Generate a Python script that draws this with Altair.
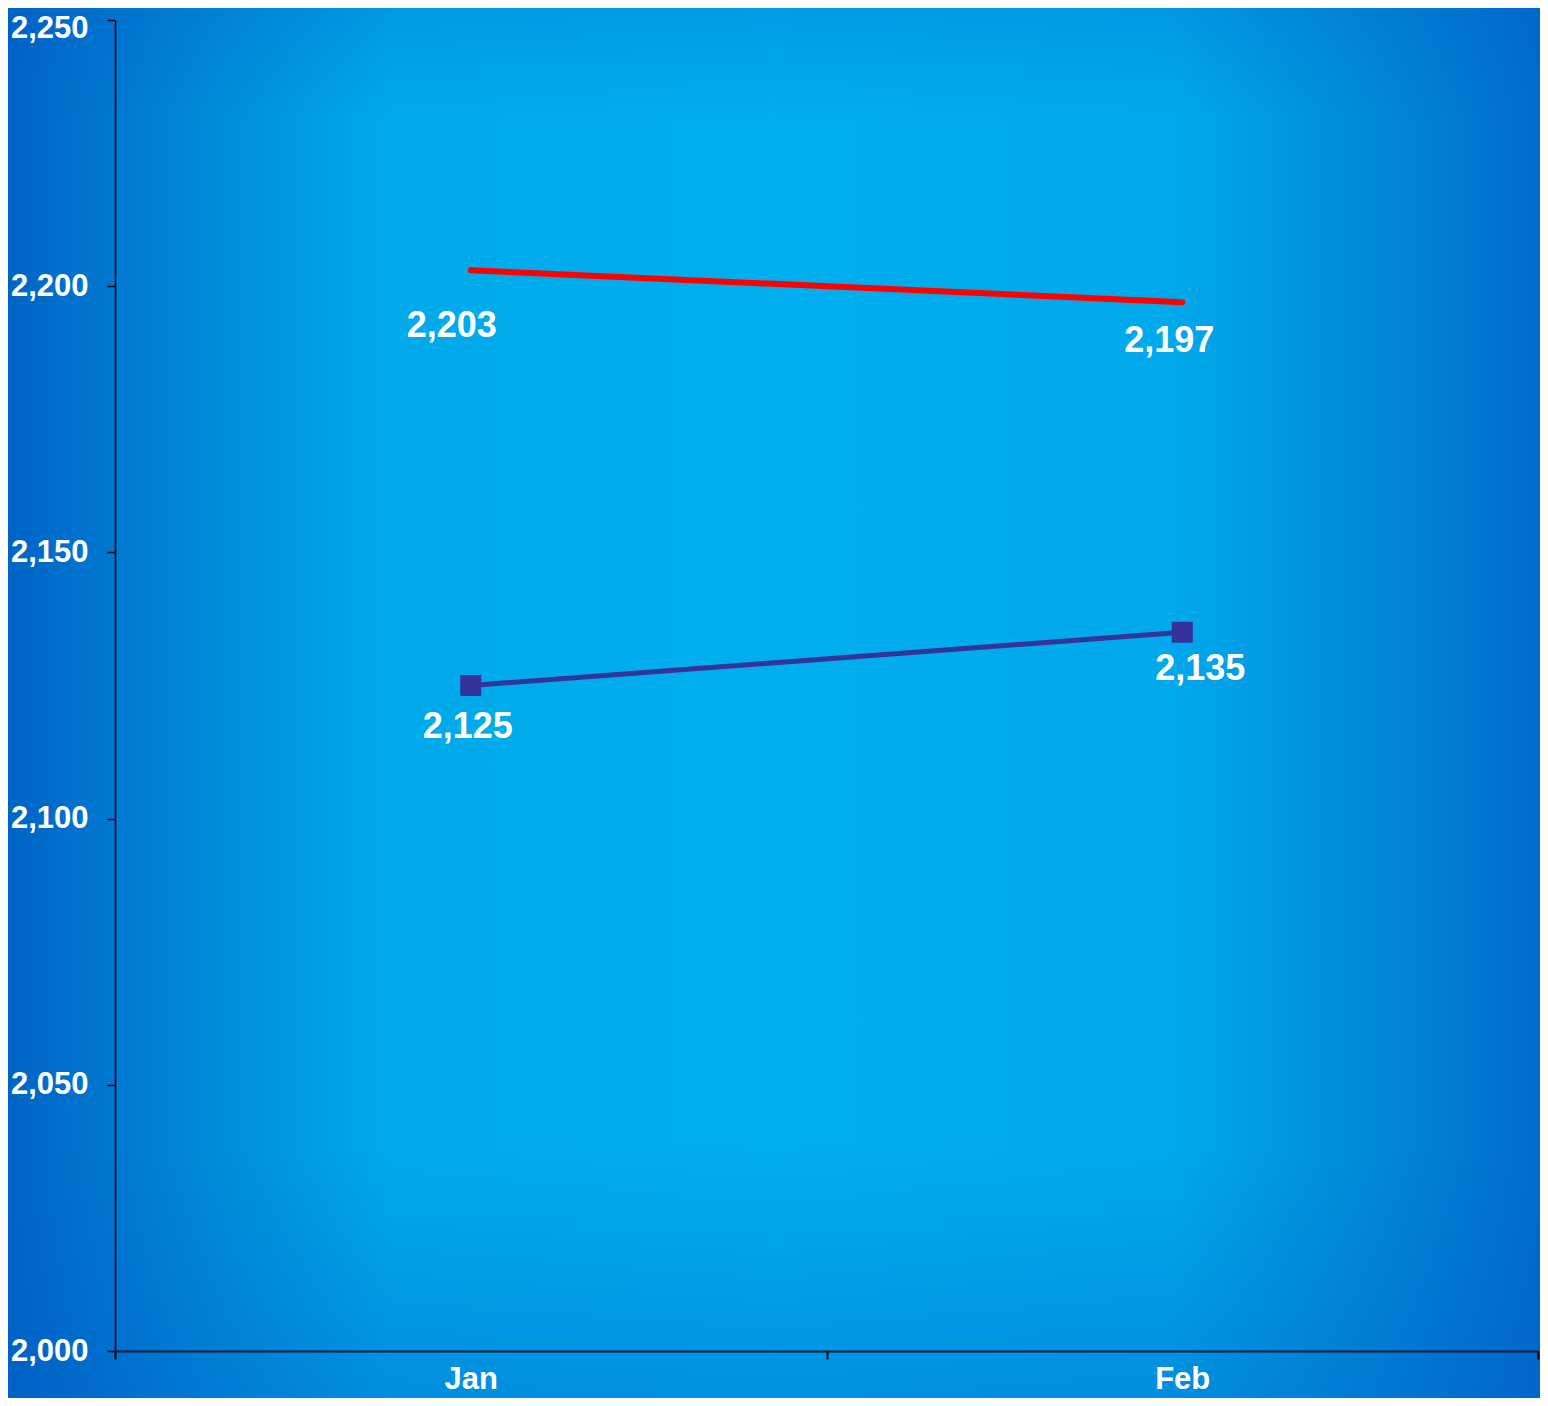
import altair as alt
import pandas as pd

months = ["Jan", "Feb"]
red_series = [2203, 2197]
blue_series = [2125, 2135]
y_ticks = [2000, 2050, 2100, 2150, 2200, 2250]

W, H = 1423, 1331
PL, PT, PR, PB = 107, 12, 2, 47

red_df = pd.DataFrame({"month": months, "value": red_series})
blue_df = pd.DataFrame({"month": months, "value": blue_series})

FONT = "Liberation Sans"

x_enc = alt.X(
    "month:N",
    sort=months,
    bandPosition=0.5,
    scale=alt.Scale(type="band", domain=months, paddingInner=0, paddingOuter=0),
    axis=alt.Axis(
        title=None, labelAngle=0, tickBand="extent", labelColor="white",
        labelFont=FONT, labelFontSize=31, labelFontWeight="bold", labelPadding=5,
        tickSize=8, tickColor="black", tickWidth=2, domainColor="#0a1a30",
        domainWidth=2, grid=False, zindex=1,
    ),
)
y_enc = alt.Y(
    "value:Q",
    scale=alt.Scale(domain=[2000, 2250], nice=False, zero=False),
    axis=alt.Axis(
        title=None, values=y_ticks, format=",d", labelColor="white",
        labelFont=FONT, labelFontSize=31, labelFontWeight="bold", labelPadding=19,
        labelOffset={"condition": {"test": "datum.value == 2250", "value": 8}, "value": 0},
        tickSize=8, tickColor="black", tickWidth=1.5, domainColor="black",
        domainWidth=1.5, grid=False, zindex=1,
    ),
)

bg_h = alt.LinearGradient(
    gradient="linear", x1=0, x2=1, y1=0, y2=0,
    stops=[
        alt.GradientStop(color="#0064C6", offset=0),
        alt.GradientStop(color="#0090DC", offset=0.15),
        alt.GradientStop(color="#00AAEB", offset=0.25),
        alt.GradientStop(color="#00AEEE", offset=0.5),
        alt.GradientStop(color="#00A9EB", offset=0.76),
        alt.GradientStop(color="#008CDA", offset=0.88),
        alt.GradientStop(color="#006CCC", offset=1),
    ],
)
bg_v = alt.LinearGradient(
    gradient="linear", x1=0, x2=0, y1=0, y2=1,
    stops=[
        alt.GradientStop(color="rgba(0,90,200,0.22)", offset=0),
        alt.GradientStop(color="rgba(0,90,200,0)", offset=0.08),
        alt.GradientStop(color="rgba(0,90,200,0)", offset=0.82),
        alt.GradientStop(color="rgba(0,90,200,0.35)", offset=1),
    ],
)

dummy = pd.DataFrame({"a": [0]})
bg1 = alt.Chart(dummy).mark_rect(fill=bg_h, clip=False).encode(
    x=alt.value(-PL), x2=alt.value(W + PR), y=alt.value(-PT), y2=alt.value(H + PB)
)
bg2 = alt.Chart(dummy).mark_rect(fill=bg_v, clip=False).encode(
    x=alt.value(-PL), x2=alt.value(W + PR), y=alt.value(-PT), y2=alt.value(H + PB)
)

red_line = alt.Chart(red_df).mark_line(color="#FF0000", strokeWidth=6, strokeCap="round").encode(x=x_enc, y=y_enc)
blue_line = alt.Chart(blue_df).mark_line(color="#333399", strokeWidth=5).encode(x=x_enc, y=y_enc)
blue_pts = alt.Chart(blue_df).mark_point(shape="square", filled=True, size=440, color="#333399", opacity=1).encode(x=x_enc, y=y_enc)


def label(df, month, dx, dy):
    return alt.Chart(df).transform_filter(alt.datum.month == month).mark_text(
        font=FONT, fontSize=36, fontWeight="bold", color="white", dx=dx, dy=dy
    ).encode(x=x_enc, y=y_enc, text=alt.Text("value:Q", format=","))


labels = [
    label(red_df, "Jan", -19, 56),
    label(red_df, "Feb", -13, 39),
    label(blue_df, "Jan", -3, 41),
    label(blue_df, "Feb", 18, 37),
]

chart = alt.layer(bg1, bg2, red_line, blue_line, blue_pts, *labels).properties(
    width=W, height=H,
    autosize=alt.AutoSizeParams(type="none"),
    padding={"left": PL, "top": PT, "right": PR, "bottom": PB},
    background="#009BE2",
).configure_view(stroke=None)

chart.save("out.html", embed_options={"renderer": "svg", "actions": False})
